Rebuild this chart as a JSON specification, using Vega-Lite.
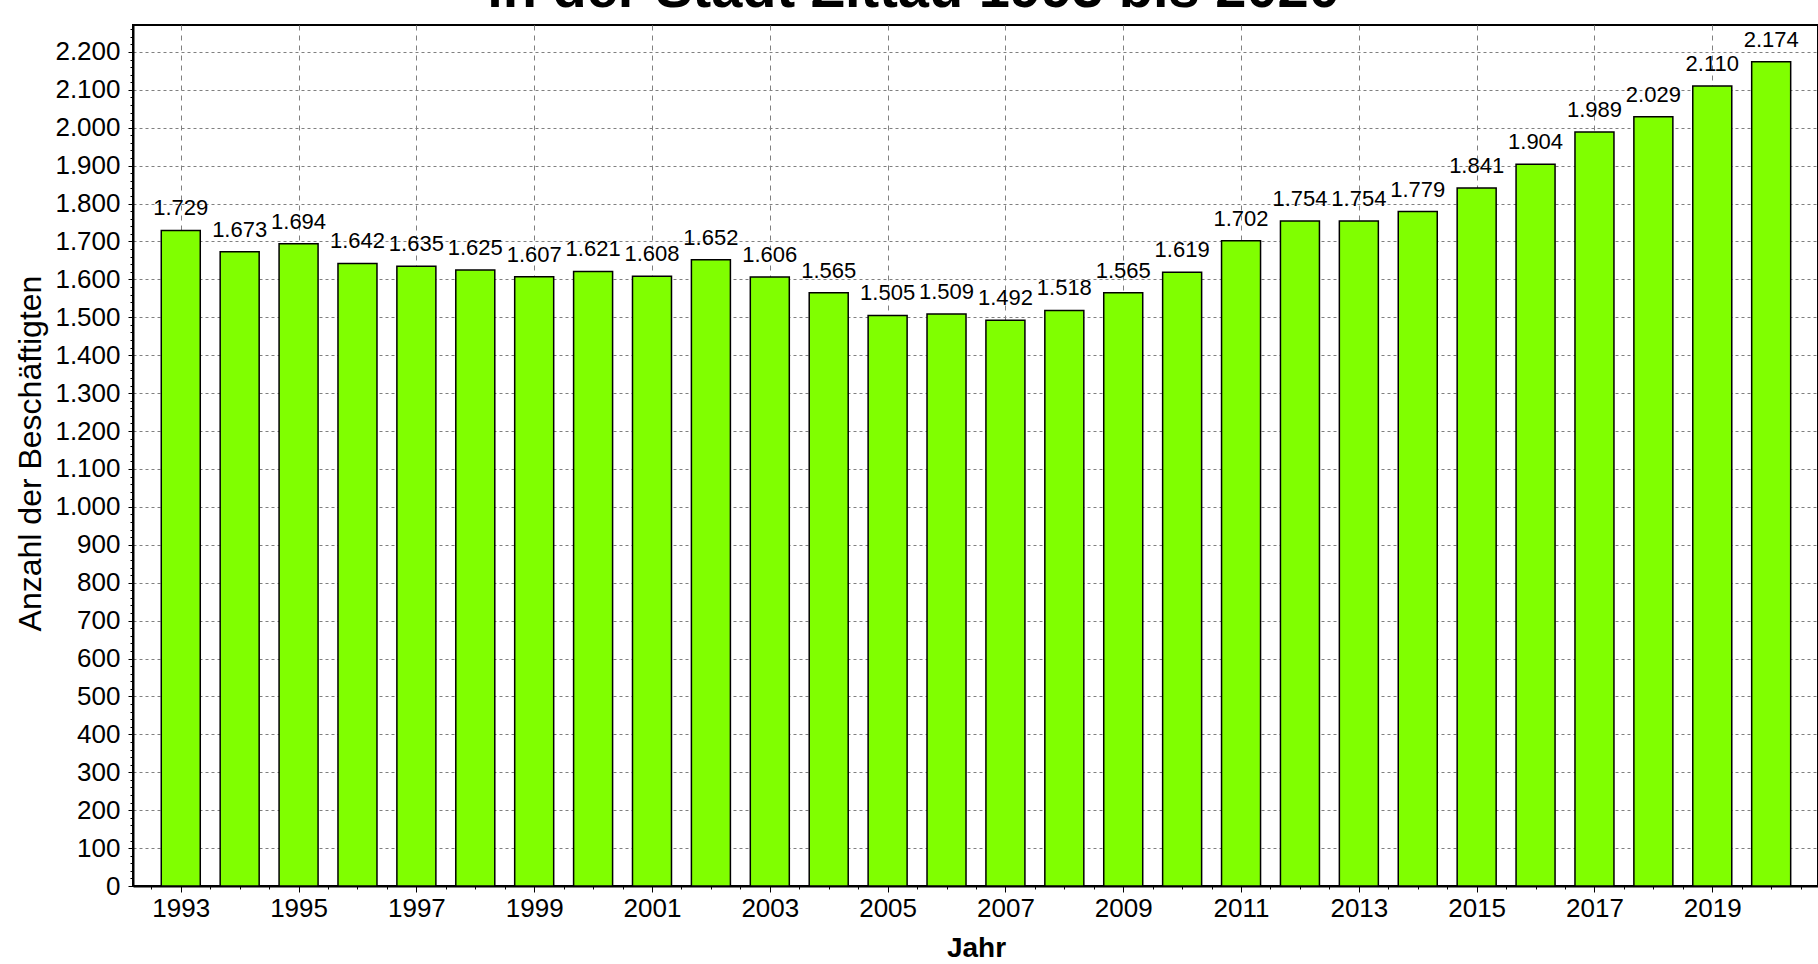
{
  "$schema": "https://vega.github.io/schema/vega-lite/v6.json",
  "width": 1685,
  "height": 861,
  "autosize": {"type": "none"},
  "padding": {"left": 133, "top": 25, "right": 0, "bottom": 78},
  "background": "white",
  "title": {
    "text": "in der Stadt Zittau 1993 bis 2020",
    "anchor": "middle",
    "frame": "group",
    "orient": "top",
    "baseline": "alphabetic",
    "offset": 0,
    "dy": 38,
    "dx": -62,
    "font": "Liberation Sans",
    "fontSize": 56,
    "fontWeight": "bold",
    "color": "black"
  },
  "config": {
    "locale": {"number": {"decimal": ",", "thousands": ".", "grouping": [3], "currency": ["", " €"]}},
    "view": {"stroke": "black", "strokeWidth": 2},
    "axis": {"labelColor": "black", "titleColor": "black", "labelFont": "Liberation Sans", "titleFont": "Liberation Sans"}
  },
  "data": {
    "values": [
      {"Jahr": 1993, "Anzahl": 1729},
      {"Jahr": 1994, "Anzahl": 1673},
      {"Jahr": 1995, "Anzahl": 1694},
      {"Jahr": 1996, "Anzahl": 1642},
      {"Jahr": 1997, "Anzahl": 1635},
      {"Jahr": 1998, "Anzahl": 1625},
      {"Jahr": 1999, "Anzahl": 1607},
      {"Jahr": 2000, "Anzahl": 1621},
      {"Jahr": 2001, "Anzahl": 1608},
      {"Jahr": 2002, "Anzahl": 1652},
      {"Jahr": 2003, "Anzahl": 1606},
      {"Jahr": 2004, "Anzahl": 1565},
      {"Jahr": 2005, "Anzahl": 1505},
      {"Jahr": 2006, "Anzahl": 1509},
      {"Jahr": 2007, "Anzahl": 1492},
      {"Jahr": 2008, "Anzahl": 1518},
      {"Jahr": 2009, "Anzahl": 1565},
      {"Jahr": 2010, "Anzahl": 1619},
      {"Jahr": 2011, "Anzahl": 1702},
      {"Jahr": 2012, "Anzahl": 1754},
      {"Jahr": 2013, "Anzahl": 1754},
      {"Jahr": 2014, "Anzahl": 1779},
      {"Jahr": 2015, "Anzahl": 1841},
      {"Jahr": 2016, "Anzahl": 1904},
      {"Jahr": 2017, "Anzahl": 1989},
      {"Jahr": 2018, "Anzahl": 2029},
      {"Jahr": 2019, "Anzahl": 2110},
      {"Jahr": 2020, "Anzahl": 2174}
    ]
  },
  "layer": [
    {
      "mark": {"type": "point", "opacity": 0},
      "encoding": {
        "x": {
          "field": "Jahr", "type": "quantitative",
          "scale": {"domain": [1992.274, 2020.71], "nice": false, "zero": false},
          "axis": {"orient": "bottom", "tickCount": 57, "labels": false, "grid": false, "domain": false, "title": null, "tickSize": 3, "tickColor": "black", "tickWidth": 1}
        },
        "y": {
          "field": "Anzahl", "type": "quantitative",
          "scale": {"domain": [0, 2271], "nice": false},
          "axis": {"orient": "left", "tickCount": 114, "labels": false, "grid": false, "domain": false, "title": null, "tickSize": 3, "tickColor": "black", "tickWidth": 1}
        }
      }
    },
    {
      "mark": {"type": "bar", "fill": "#80FF00", "stroke": "black", "strokeWidth": 1.5, "size": 39},
      "encoding": {
        "x": {
          "field": "Jahr", "type": "quantitative",
          "axis": {
            "orient": "bottom",
            "values": [1993, 1995, 1997, 1999, 2001, 2003, 2005, 2007, 2009, 2011, 2013, 2015, 2017, 2019],
            "format": "d",
            "grid": true, "gridColor": "#808080", "gridDash": [5, 5], "gridWidth": 1, "gridOpacity": 1,
            "domain": true, "domainColor": "black", "domainWidth": 2,
            "ticks": true, "tickSize": 6, "tickColor": "black", "tickWidth": 1,
            "labelFontSize": 26, "labelPadding": 3, "labelFlush": false, "labelOverlap": false,
            "title": "Jahr", "titleFontSize": 28, "titleFontWeight": "bold",
            "titleX": 843, "titleY": 62, "titleBaseline": "middle", "titleAlign": "center"
          }
        },
        "y": {
          "field": "Anzahl", "type": "quantitative",
          "axis": {
            "orient": "left",
            "values": [0, 100, 200, 300, 400, 500, 600, 700, 800, 900, 1000, 1100, 1200, 1300, 1400, 1500, 1600, 1700, 1800, 1900, 2000, 2100, 2200],
            "format": ",d",
            "grid": true, "gridColor": "#808080", "gridDash": [3, 3], "gridWidth": 1, "gridOpacity": 1,
            "domain": true, "domainColor": "black", "domainWidth": 2,
            "ticks": true, "tickSize": 5, "tickColor": "black", "tickWidth": 1,
            "labelFontSize": 26, "labelPadding": 8, "labelFlush": false, "labelOverlap": false,
            "title": "Anzahl der Beschäftigten", "titleFontSize": 32, "titleFontWeight": "normal",
            "titleX": -103, "titleY": 428, "titleAngle": -90, "titleBaseline": "middle", "titleAlign": "center"
          }
        }
      }
    },
    {
      "mark": {"type": "text", "baseline": "middle", "align": "center", "dy": -22, "font": "Liberation Sans", "fontSize": 22, "color": "black"},
      "encoding": {
        "x": {"field": "Jahr", "type": "quantitative", "axis": null},
        "y": {"field": "Anzahl", "type": "quantitative", "axis": null},
        "text": {"field": "Anzahl", "type": "quantitative", "format": ",d"}
      }
    }
  ],
  "resolve": {"axis": {"x": "independent", "y": "independent"}}
}
